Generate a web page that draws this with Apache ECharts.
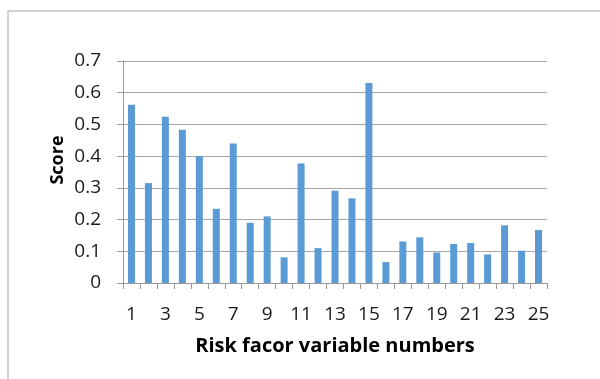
<!DOCTYPE html>
<html>
<head>
<meta charset="utf-8">
<script src="https://cdn.jsdelivr.net/npm/echarts@6/dist/echarts.min.js"></script>
<style>
  html, body { margin: 0; padding: 0; background: #fff; }
  #chart { width: 600px; height: 379px; }
</style>
</head>
<body>
<div id="chart"></div>
<script>
const categories = ['1', '2', '3', '4', '5', '6', '7', '8', '9', '10', '11', '12', '13',
  '14', '15', '16', '17', '18', '19', '20', '21', '22', '23', '24', '25'];
const scores = [0.562, 0.315, 0.524, 0.483, 0.400, 0.234, 0.440, 0.190, 0.210, 0.081,
  0.377, 0.110, 0.291, 0.267, 0.631, 0.066, 0.131, 0.144, 0.096, 0.123, 0.126, 0.090,
  0.182, 0.102, 0.167];
const xName = 'Risk facor variable numbers';
const yName = 'Score';

const chart = echarts.init(document.getElementById('chart'));
const font = 'Open Sans';

const option = {
  animation: false,
  grid: {
    left: 123,
    right: 53,
    top: 61,
    bottom: 96
  },
  graphic: [
    {
      type: 'rect',
      shape: { x: 8, y: 11, width: 700, height: 500 },
      style: { fill: 'none', stroke: '#c4c4c4', lineWidth: 1.5 },
      silent: true
    },
    {
      type: 'text',
      x: 58,
      y: 160,
      rotation: Math.PI / 2,
      style: {
        text: yName,
        font: 'bold 18px "Open Sans"',
        fill: '#000',
        align: 'center',
        verticalAlign: 'middle'
      }
    }
  ],
  xAxis: {
    type: 'category',
    data: categories,
    name: xName,
    nameLocation: 'middle',
    nameGap: 53,
    nameTextStyle: {
      fontFamily: font,
      fontWeight: 'bold',
      fontSize: 20,
      color: '#000'
    },
    axisLine: { lineStyle: { color: '#999', width: 1 } },
    axisTick: { show: true, interval: 0, length: 6, lineStyle: { color: '#999' } },
    axisLabel: {
      interval: 1,
      margin: 22,
      fontFamily: font,
      fontSize: 19,
      color: '#1a1a1a'
    }
  },
  yAxis: {
    type: 'value',
    min: 0,
    max: 0.7,
    interval: 0.1,
    axisLine: { show: true, lineStyle: { color: '#999', width: 1 } },
    axisTick: { show: true, length: 6, lineStyle: { color: '#999' } },
    splitLine: { lineStyle: { color: '#a6a6a6', width: 1 } },
    axisLabel: {
      margin: 22,
      fontFamily: font,
      fontSize: 19,
      color: '#1a1a1a',
      formatter: v => String(Math.round(v * 10) / 10)
    }
  },
  series: [{
    type: 'bar',
    data: scores,
    barWidth: 7,
    itemStyle: { color: '#5b9bd5' }
  }]
};

chart.setOption(option);
</script>
</body>
</html>
